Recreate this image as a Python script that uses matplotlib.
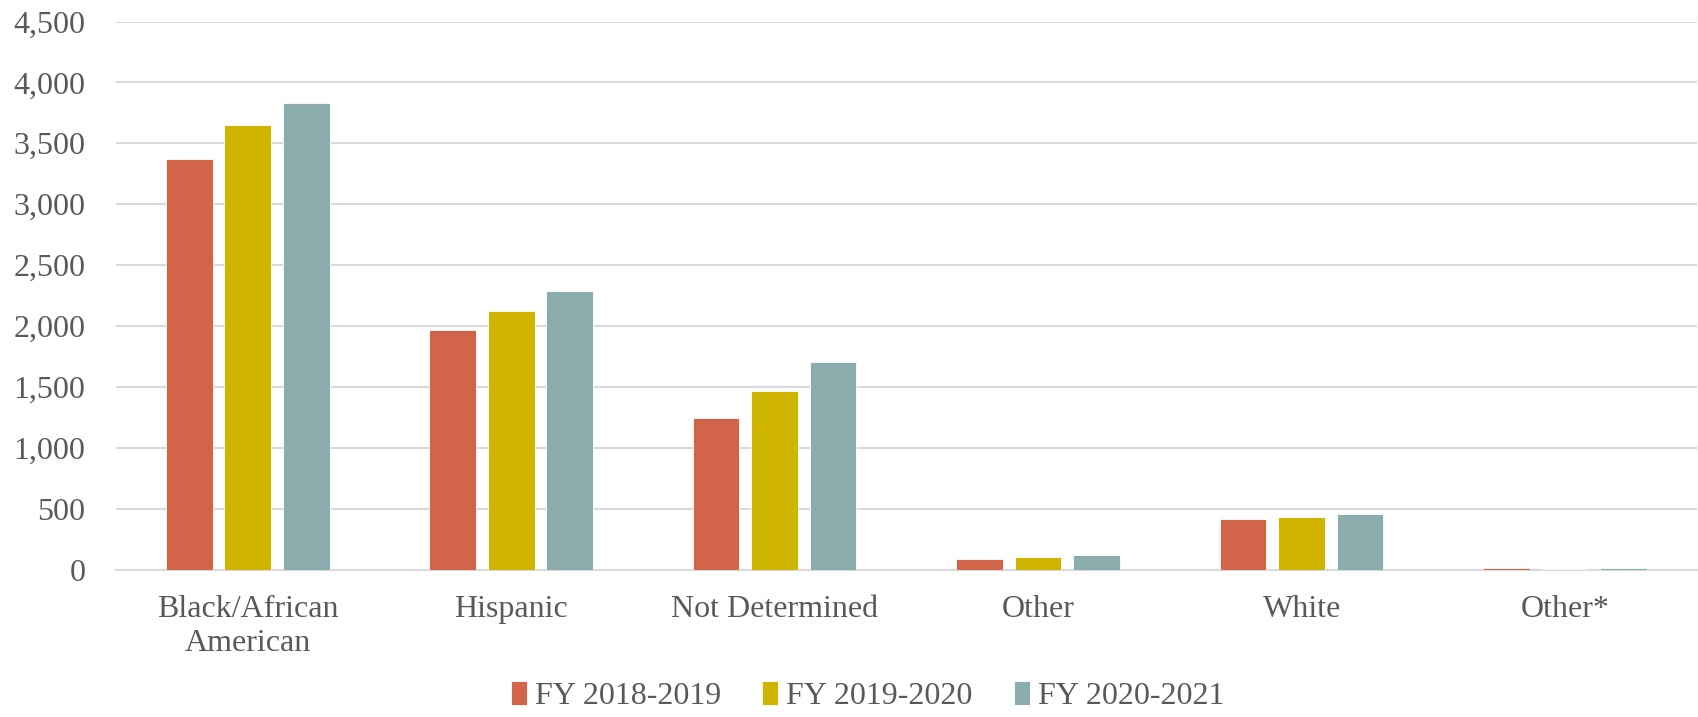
import matplotlib.pyplot as plt
import numpy as np
from matplotlib.ticker import FuncFormatter

categories = ['Black/African\nAmerican', 'Hispanic', 'Not Determined', 'Other', 'White', 'Other*']
fy_2018_2019 = [3372, 1970, 1248, 85, 418, 12]
fy_2019_2020 = [3648, 2125, 1470, 102, 435, 8]
fy_2020_2021 = [3830, 2290, 1705, 119, 458, 10]
series_labels = ['FY 2018-2019', 'FY 2019-2020', 'FY 2020-2021']
colors = ['#D2644A', '#CFB500', '#8BADAE']

plt.rcParams['font.family'] = ['Liberation Serif', 'DejaVu Serif']
text_color = '#595959'

fig = plt.figure(figsize=(16.98, 7.17), dpi=100)
ax = fig.add_axes([0.0683, 0.2056, 0.931, 0.7644])

x = np.arange(len(categories))
width = 0.177
step = 0.222
for i, (vals, lab, col) in enumerate(zip([fy_2018_2019, fy_2019_2020, fy_2020_2021], series_labels, colors)):
    ax.bar(x + (i - 1) * step, vals, width, color=col, label=lab,
           edgecolor='white', linewidth=0.6, zorder=3)

ax.set_xlim(-0.5, len(categories) - 0.5)
ax.set_ylim(0, 4500)
ax.set_yticks(np.arange(0, 4501, 500))
ax.yaxis.set_major_formatter(FuncFormatter(lambda v, p: f'{int(v):,}'))
ax.grid(axis='y', color='#D9D9D9', linewidth=1.5, zorder=0)
ax.set_axisbelow(True)

for s in ['top', 'right', 'left']:
    ax.spines[s].set_visible(False)
ax.spines['bottom'].set_color('#D9D9D9')
ax.spines['bottom'].set_linewidth(1.5)

ax.set_xticks(x)
ax.set_xticklabels(categories, fontsize=23, color=text_color, linespacing=1.25)
ax.tick_params(axis='x', length=0, pad=18)
ax.tick_params(axis='y', length=0, pad=22, labelsize=23, labelcolor=text_color)

leg = fig.legend(loc='lower center', bbox_to_anchor=(0.511, -0.032), ncol=3, frameon=False,
                 fontsize=23, handlelength=0.5, handleheight=0.75, handletextpad=0.25,
                 columnspacing=1.3)
for t in leg.get_texts():
    t.set_color(text_color)

fig.savefig('out.png', dpi=100)
